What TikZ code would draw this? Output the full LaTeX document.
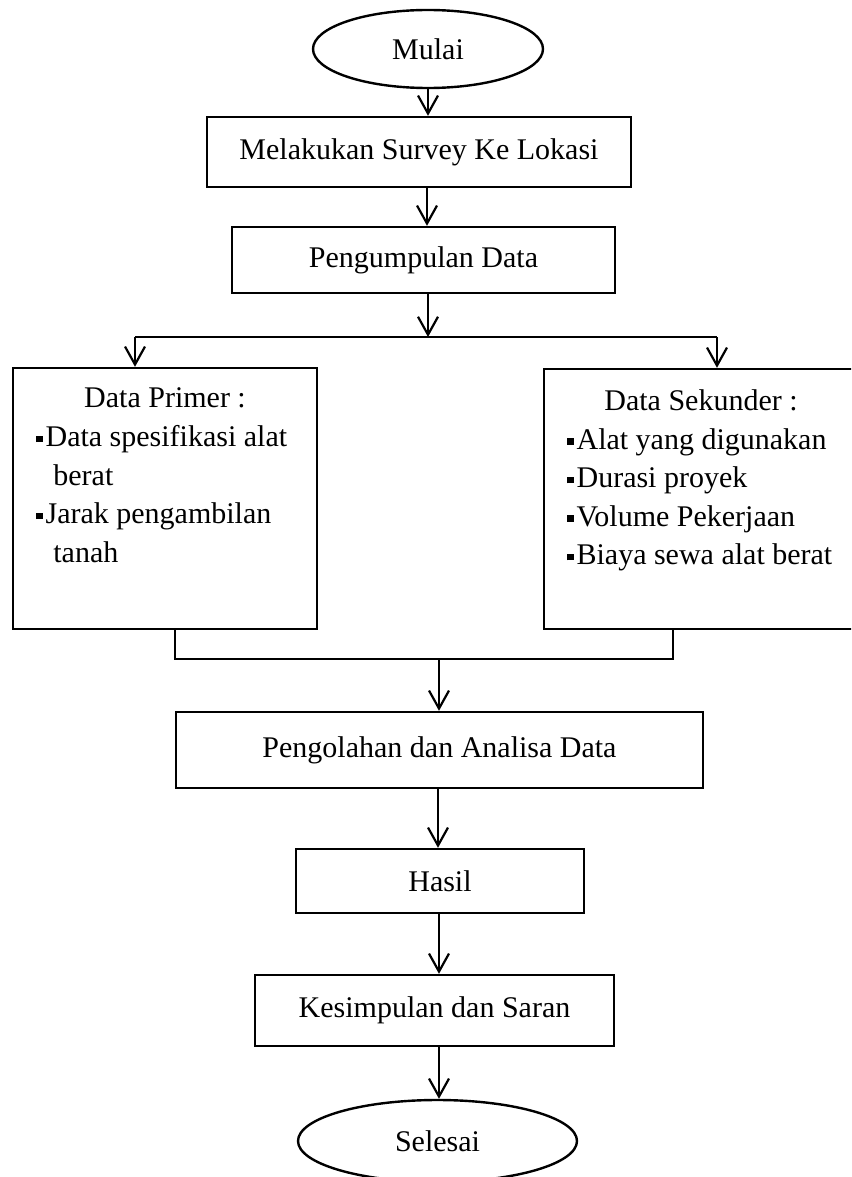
\documentclass[tikz,border=0pt]{standalone}
\usepackage{fontspec}
\setmainfont{Liberation Serif}
\usetikzlibrary{arrows.meta,shapes.geometric}
\newcommand\sqbul{\rule[2.2pt]{3.2pt}{3.2pt}\hspace{1.4pt}}
\tikzset{
  base/.style={draw, line width=1.2pt, inner sep=0pt, font=\fontsize{15pt}{19.25pt}\selectfont},
  procbox/.style={base, rectangle},
  termbox/.style={base, ellipse},
  txt/.style={inner sep=0pt, align=left, font=\fontsize{15pt}{19.25pt}\selectfont},
  line/.style={line width=1.1pt},
  arr/.style={line, -{Straight Barb[length=9pt,width=10pt,line width=1.1pt]}}
}
\begin{document}
\begin{tikzpicture}[x=0.5pt,y=-0.5pt]
\clip (0,0) rectangle (851,1177);
\fill[white] (0,0) rectangle (851,1177);

\node[termbox, minimum width=115pt, minimum height=39pt] (mulai) at (428,49) {Mulai};
\node[procbox, minimum width=212pt, minimum height=35pt] (survey) at (419,152) {Melakukan Survey Ke Lokasi};
\node[procbox, minimum width=191.5pt, minimum height=33pt] (kumpul) at (423.5,260) {Pengumpulan Data};

\node[procbox, minimum width=152pt, minimum height=130.5pt] (primer) at (165,498.5) {};
\node[procbox, minimum width=157pt, minimum height=130pt] (sekunder) at (701,499) {};

\node[txt, anchor=base] (primerT) at (165,407) {Data Primer :};
\node[txt, anchor=north west] (primerL) at (36,425) {\sqbul Data spesifikasi alat\\\hspace{8.5pt}berat\\\sqbul Jarak pengambilan\\\hspace{8.5pt}tanah};

\node[txt, anchor=base] (sekunderT) at (701,410) {Data Sekunder :};
\node[txt, anchor=north west] (sekunderL) at (567,428) {\sqbul Alat yang digunakan\\\sqbul Durasi proyek\\\sqbul Volume Pekerjaan\\\sqbul Biaya sewa alat berat};

\node[procbox, minimum width=263.5pt, minimum height=38pt] (olah) at (439.5,750) {Pengolahan dan Analisa Data};
\node[procbox, minimum width=144pt, minimum height=32pt] (hasil) at (440,881) {Hasil};
\node[procbox, minimum width=179.5pt, minimum height=35.5pt] (simpul) at (434.5,1010.5) {Kesimpulan dan Saran};
\node[termbox, minimum width=139.5pt, minimum height=41pt] (selesai) at (437.5,1141) {Selesai};

% connectors
\draw[arr] (mulai.south) -- (mulai.south |- survey.north);
\coordinate (c1) at (427,0);
\draw[arr] (c1 |- survey.south) -- (c1 |- kumpul.north);

\coordinate (split) at (428,337);
\coordinate (pL) at (135,337);
\coordinate (pR) at (717,337);
\draw[arr] (split |- kumpul.south) -- (split);
\draw[line] (pL) -- (pR);
\draw[arr] (pL) -- (pL |- primer.north);
\draw[arr] (pR) -- (pR |- sekunder.north);

\coordinate (mL) at (175,659);
\coordinate (mR) at (673,659);
\coordinate (merge) at (439,659);
\draw[line] (mL |- primer.south) -- (mL) -- (mR) -- (mR |- sekunder.south);
\draw[arr] (merge) -- (merge |- olah.north);

\coordinate (c2) at (438,0);
\draw[arr] (c2 |- olah.south) -- (c2 |- hasil.north);
\coordinate (c3) at (439,0);
\draw[arr] (c3 |- hasil.south) -- (c3 |- simpul.north);
\draw[arr] (c3 |- simpul.south) -- (c3 |- selesai.north);
\end{tikzpicture}
\end{document}
